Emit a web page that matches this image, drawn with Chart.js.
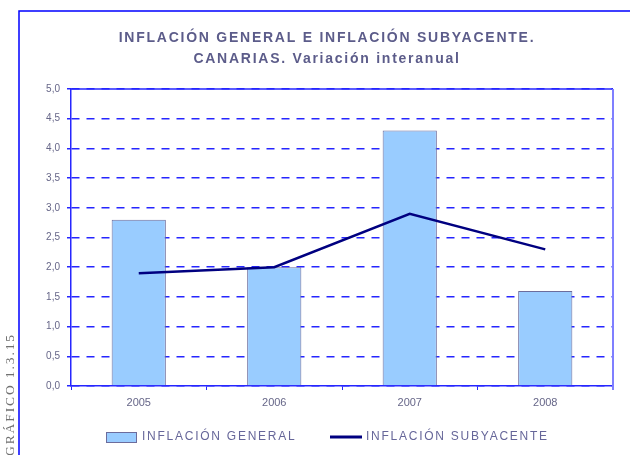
<!DOCTYPE html>
<html>
<head>
<meta charset="utf-8">
<script src="https://cdn.jsdelivr.net/npm/chart.js@4.4.1/dist/chart.umd.min.js"></script>
<style>
  html, body { margin: 0; padding: 0; background: #fff; }
</style>
</head>
<body>
<canvas id="myChart" width="630" height="455"></canvas>
<script>
const years = ["2005", "2006", "2007", "2008"];
const general = [2.8, 2.0, 4.3, 1.6];
const subyacente = [1.9, 2.0, 2.9, 2.3];
const yTickLabels = ["0,0", "0,5", "1,0", "1,5", "2,0", "2,5", "3,0", "3,5", "4,0", "4,5", "5,0"];
const titleLines = ["INFLACIÓN GENERAL E INFLACIÓN SUBYACENTE.", "CANARIAS. Variación interanual"];
const sideLabel = "GRÁFICO 1.3.15";

const sansFont = "'Liberation Sans', Arial, sans-serif";
const blue = "#2626ff";

// frame, side label, plot border and legend drawn around the chart
const decorations = {
  id: "decorations",
  beforeDraw(chart) {
    const ctx = chart.ctx;
    ctx.save();
    ctx.strokeStyle = "#0000ff";
    ctx.lineWidth = 1.5;
    ctx.beginPath();
    ctx.moveTo(630, 11);
    ctx.lineTo(19, 11);
    ctx.lineTo(19, 455);
    ctx.stroke();

    ctx.fillStyle = "#707070";
    ctx.font = "13.5px 'Liberation Serif', serif";
    ctx.letterSpacing = "1.9px";
    ctx.translate(14, 333);
    ctx.rotate(-Math.PI / 2);
    ctx.textAlign = "right";
    ctx.textBaseline = "alphabetic";
    ctx.fillText(sideLabel, 0, 0);
    ctx.restore();
    // spaced letters for the title
    ctx.letterSpacing = "1.75px";
  },
  beforeDatasetsDraw(chart) {
    const ctx = chart.ctx;
    const a = chart.chartArea;
    ctx.letterSpacing = "0px";
    ctx.save();
    ctx.strokeStyle = blue;
    ctx.lineWidth = 1.5;
    ctx.beginPath();
    ctx.moveTo(a.left, a.top);
    ctx.lineTo(a.right, a.top);
    ctx.stroke();
    ctx.strokeStyle = "#7f7fff";
    ctx.lineWidth = 2;
    ctx.beginPath();
    ctx.moveTo(a.right, a.top);
    ctx.lineTo(a.right, a.bottom + 4);
    ctx.stroke();
    ctx.restore();
  },
  afterDraw(chart) {
    const ctx = chart.ctx;
    const bars = chart.data.datasets[0];
    const line = chart.data.datasets[1];
    const y = 437;
    ctx.save();
    ctx.font = "12px " + sansFont;
    ctx.letterSpacing = "1.75px";
    ctx.textBaseline = "middle";

    ctx.fillStyle = bars.backgroundColor;
    ctx.fillRect(106, y - 5, 30, 10);
    ctx.strokeStyle = bars.borderColor;
    ctx.lineWidth = 1;
    ctx.strokeRect(106.5, y - 4.5, 30, 10);
    ctx.fillStyle = "#666699";
    ctx.fillText(bars.label, 142, y);

    ctx.strokeStyle = line.borderColor;
    ctx.lineWidth = 3;
    ctx.beginPath();
    ctx.moveTo(330, y);
    ctx.lineTo(362, y);
    ctx.stroke();
    ctx.fillText(line.label, 366, y);
    ctx.restore();
  }
};

const ctx = document.getElementById("myChart");
new Chart(ctx, {
  type: "bar",
  data: {
    labels: years,
    datasets: [
      {
        label: "INFLACIÓN GENERAL",
        data: general,
        backgroundColor: "#99ccff",
        borderColor: "#6c6c9c",
        borderWidth: 1,
        categoryPercentage: 1,
        barPercentage: 0.4,
        order: 1,
      },
      {
        type: "line",
        label: "INFLACIÓN SUBYACENTE",
        data: subyacente,
        borderColor: "#000080",
        borderWidth: 2.5,
        pointRadius: 0,
        fill: false,
        tension: 0,
        order: 0,
      },
    ],
  },
  options: {
    responsive: false,
    animation: false,
    layout: { padding: { left: 41, right: 17, top: 0, bottom: 45 } },
    plugins: {
      legend: { display: false },
      tooltip: { enabled: false },
      title: {
        display: true,
        text: titleLines,
        color: "#5c5c8a",
        font: { family: sansFont, size: 14, weight: "bold", lineHeight: 1.465 },
        padding: { top: 28, bottom: 20 },
      },
    },
    scales: {
      x: {
        afterFit: (s) => { s.height = 24; },
        grid: {
          offset: true,
          drawOnChartArea: false,
          drawTicks: true,
          tickLength: 4,
          tickColor: blue,
        },
        border: { color: blue, width: 1.5 },
        ticks: {
          z: 1,
          padding: 6,
          color: "#666688",
          font: { family: sansFont, size: 11 },
        },
      },
      y: {
        min: 0,
        max: 5,
        afterFit: (s) => { s.width = 30; },
        grid: {
          color: blue,
          lineWidth: 1.5,
          tickLength: 4,
          tickColor: blue,
          tickBorderDash: [],
        },
        border: { color: blue, width: 1.5, dash: [8, 7] },
        ticks: {
          z: 1,
          stepSize: 0.5,
          padding: 7,
          color: "#666688",
          font: { family: sansFont, size: 10 },
          callback: (v, i) => yTickLabels[i],
        },
      },
    },
  },
  plugins: [decorations],
});
</script>
</body>
</html>
